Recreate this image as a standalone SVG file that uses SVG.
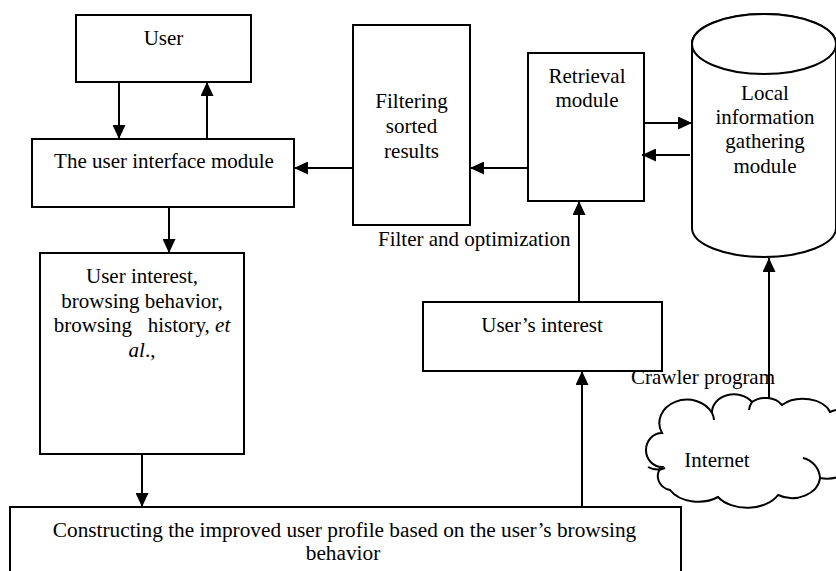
<svg xmlns="http://www.w3.org/2000/svg" width="836" height="571" viewBox="0 0 836 571">
<style>
.box{fill:#fff;stroke:#000;stroke-width:2}
.ln{fill:none;stroke:#000;stroke-width:2}
.t{font-family:"Liberation Serif","Times New Roman",serif;font-size:21px;fill:#000}
.m{text-anchor:middle}
</style>
<defs>
<marker id="ah" markerWidth="14" markerHeight="13" refX="14" refY="6.5" orient="auto" markerUnits="userSpaceOnUse">
<path d="M0,0 L14,6.5 L0,13 Z" fill="#000"/>
</marker>
</defs>
<rect width="836" height="571" fill="#fff"/>

<g id="user">
<rect class="box" x="76" y="15" width="175" height="67"/>
<text class="t m" x="163.5" y="45">User</text>
</g>
<g id="ui">
<rect class="box" x="32" y="139" width="262" height="68"/>
<text class="t m" x="164" y="168">The user interface module</text>
</g>
<g id="filtering">
<rect class="box" x="353" y="25" width="117" height="200"/>
<text class="t m" x="411.5" y="108">Filtering</text>
<text class="t m" x="411.5" y="133">sorted</text>
<text class="t m" x="411.5" y="158">results</text>
</g>
<g id="retrieval">
<rect class="box" x="528" y="53" width="116" height="148"/>
<text class="t m" x="587" y="83">Retrieval</text>
<text class="t m" x="587" y="107">module</text>
</g>
<g id="local">
<path class="box" d="M692,44 L692,228 A72,29 0 0 0 836,228 L836,44 A72,30 0 0 0 692,44 Z"/>
<ellipse class="box" cx="764" cy="44" rx="72" ry="30"/>
<text class="t m" x="765" y="100">Local</text>
<text class="t m" x="765" y="124">information</text>
<text class="t m" x="765" y="148">gathering</text>
<text class="t m" x="765" y="173">module</text>
</g>
<g id="interest">
<rect class="box" x="40" y="253" width="204" height="201"/>
<text class="t m" x="142" y="283">User interest,</text>
<text class="t m" x="142" y="308">browsing behavior,</text>
<text class="t m" x="142" y="332" xml:space="preserve">browsing   history, <tspan font-style="italic">et</tspan></text>
<text class="t m" x="142" y="357"><tspan font-style="italic">al</tspan>.,</text>
</g>
<g id="usersinterest">
<rect class="box" x="423" y="302" width="239" height="69"/>
<text class="t m" x="542" y="332">User’s interest</text>
</g>
<g id="profile">
<rect class="box" x="10" y="507" width="671" height="80"/>
<text class="t m" x="344.5" y="537" style="font-size:21.3px">Constructing the improved user profile based on the user’s browsing</text>
<text class="t m" x="343" y="560" style="font-size:21.3px">behavior</text>
</g>
<g id="internet">
<path class="box" d="M662,467 A16,17 0 0 1 662,433 A26,22 0 0 1 712,413 A22,18 0 0 1 752,402 A20,16 0 0 1 782,405 A28,18 0 0 1 830,412 A26,30 0 0 1 850,470 A30,25 0 0 1 820,478 A28,22 0 0 1 778,495 A34,22 0 0 1 718,497 A32,22 0 0 1 670,490 A16,14 0 0 1 662,467 Z"/>
<path class="ln" d="M648,467 A18,16 0 0 0 665,468"/>
<path class="ln" d="M803,458 A22,22 0 0 1 820,478"/>
<path class="ln" d="M712,413 A20,18 0 0 1 714,420"/>
<path class="ln" d="M752,402 A18,18 0 0 0 749,410"/>
<text class="t m" x="717" y="467">Internet</text>
</g>

<g id="connectors">
<line class="ln" x1="119" y1="82" x2="119" y2="139" marker-end="url(#ah)"/>
<line class="ln" x1="207" y1="139" x2="207" y2="82" marker-end="url(#ah)"/>
<line class="ln" x1="353" y1="168" x2="294" y2="168" marker-end="url(#ah)"/>
<line class="ln" x1="528" y1="168" x2="470" y2="168" marker-end="url(#ah)"/>
<line class="ln" x1="644" y1="123" x2="692" y2="123" marker-end="url(#ah)"/>
<line class="ln" x1="690" y1="155" x2="642" y2="155" marker-end="url(#ah)"/>
<line class="ln" x1="169" y1="207" x2="169" y2="253" marker-end="url(#ah)"/>
<line class="ln" x1="142" y1="454" x2="142" y2="507" marker-end="url(#ah)"/>
<line class="ln" x1="579" y1="302" x2="579" y2="201" marker-end="url(#ah)"/>
<line class="ln" x1="582" y1="507" x2="582" y2="371" marker-end="url(#ah)"/>
<line class="ln" x1="769" y1="398" x2="769" y2="258" marker-end="url(#ah)"/>
<text class="t" x="378" y="246">Filter and optimization</text>
<text class="t" x="631" y="384">Crawler program</text>
</g>
</svg>
